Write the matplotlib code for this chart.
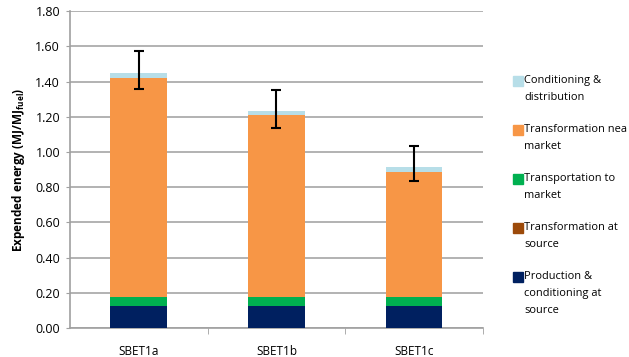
import numpy as np
import matplotlib.pyplot as plt
from matplotlib.patches import Rectangle

categories = ["SBET1a", "SBET1b", "SBET1c"]
production = [0.125, 0.125, 0.125]
transf_source = [0.0, 0.0, 0.0]
transport = [0.05, 0.05, 0.05]
transf_market = [1.247, 1.036, 0.714]
conditioning = [0.027, 0.023, 0.028]
err_low = [0.092, 0.098, 0.081]
err_high = [0.126, 0.117, 0.115]

labels = ["Production &\nconditioning at\nsource", "Transformation at\nsource",
          "Transportation to\nmarket", "Transformation nea\nmarket", "Conditioning &\ndistribution"]
colors = ["#002060", "#9C4A0A", "#00B050", "#F79646", "#B7DEE8"]
series = [production, transf_source, transport, transf_market, conditioning]

plt.rcParams['font.family'] = ['Open Sans', 'DejaVu Sans']

fig = plt.figure(figsize=(6.29, 3.57), dpi=100)
ax = fig.add_axes([0.111, 0.081, 0.657, 0.888])

x = np.arange(len(categories))
bottom = np.zeros(len(categories))
for vals, c in zip(series, colors):
    ax.bar(x, vals, 0.41, bottom=bottom, color=c, zorder=3)
    bottom += np.array(vals)

ax.errorbar(x, bottom, yerr=[err_low, err_high], fmt="none", ecolor="black",
            elinewidth=1.5, capsize=3.5, capthick=1.5, zorder=4)

ax.set_xlim(-0.5, 2.5)
ax.set_ylim(0, 1.8)
ax.set_yticks(np.arange(0, 1.81, 0.2))
ax.set_yticklabels(["%.2f" % v for v in np.arange(0, 1.81, 0.2)], fontsize=9)
ax.set_xticks(x)
ax.set_xticklabels(categories, fontsize=8.5)
ax.tick_params(axis="x", length=0, pad=12)
ax.set_xticks([0.5, 1.5, 2.5], minor=True)
ax.tick_params(axis="x", which="minor", length=4, color="#A0A0A0", direction="out")
ax.tick_params(axis="y", length=3, color="#A0A0A0", pad=4)
ax.grid(axis="y", color="#A6A6A6", linewidth=1.2, zorder=0)
for s in ["top", "right"]:
    ax.spines[s].set_visible(False)
for s in ["left", "bottom"]:
    ax.spines[s].set_color("#A0A0A0")
    ax.spines[s].set_linewidth(1.2)
ax.set_ylabel("Expended energy (MJ/MJ$_{\\mathregular{fuel}}$)", fontsize=8.5,
              fontweight="bold", labelpad=6)

# legend drawn by hand, top entry first, swatch beside the first text line
W, H = 629, 357
for i, (lab, c) in enumerate(zip(labels[::-1], colors[::-1])):
    yc = 81 + 49 * i
    fig.patches.append(Rectangle((513 / W, 1 - (yc + 5) / H), 10 / W, 10 / H,
                                 transform=fig.transFigure, color=c, figure=fig))
    fig.text(524 / W, 1 - (yc - 6) / H, lab, fontsize=7.9, va="top", ha="left",
             linespacing=1.75)

fig.savefig("out.png")
